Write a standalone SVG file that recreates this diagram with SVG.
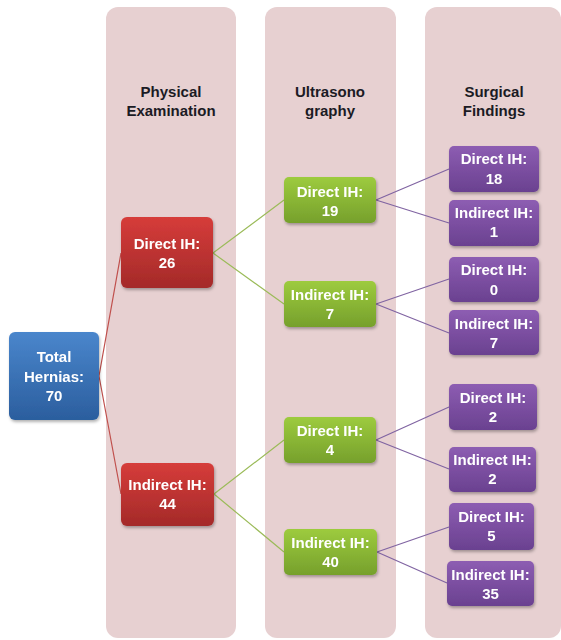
<svg xmlns="http://www.w3.org/2000/svg" width="561" height="640" viewBox="0 0 561 640">
<defs>
<linearGradient id="gBlue" x1="0" y1="0" x2="0" y2="1"><stop offset="0" stop-color="#4a86cc"/><stop offset="1" stop-color="#2b5e9e"/></linearGradient>
<linearGradient id="gRed" x1="0" y1="0" x2="0" y2="1"><stop offset="0" stop-color="#d63c3a"/><stop offset="1" stop-color="#a42a29"/></linearGradient>
<linearGradient id="gGreen" x1="0" y1="0" x2="0" y2="1"><stop offset="0" stop-color="#9dcb3e"/><stop offset="1" stop-color="#76a02c"/></linearGradient>
<linearGradient id="gPurple" x1="0" y1="0" x2="0" y2="1"><stop offset="0" stop-color="#8d5db2"/><stop offset="1" stop-color="#6a4190"/></linearGradient>
<filter id="sh" x="-20%" y="-20%" width="140%" height="150%"><feDropShadow dx="1" dy="2" stdDeviation="1.5" flood-color="#000" flood-opacity="0.3"/></filter>
</defs>
<style>
.col{fill:#e7d0d1}
.hd{font-family:"Liberation Sans",Arial,sans-serif;font-weight:bold;font-size:15px;fill:#1b1b24;text-anchor:middle}
.t{font-family:"Liberation Sans",Arial,sans-serif;font-weight:bold;font-size:15px;fill:#ffffff;text-anchor:middle}
.n{filter:url(#sh)}
.cr{stroke:#c0504d;stroke-width:1.2;fill:none}
.cg{stroke:#9bbb59;stroke-width:1.2;fill:none}
.cp{stroke:#8064a2;stroke-width:1.2;fill:none}
</style>
<rect width="561" height="640" fill="#ffffff"/>
<g id="columns">
<rect class="col" x="106" y="7" width="130" height="631" rx="12"/>
<rect class="col" x="265" y="7" width="131" height="631" rx="12"/>
<rect class="col" x="425" y="7" width="136" height="631" rx="12"/>
<text class="hd" x="171" y="97">Physical</text>
<text class="hd" x="171" y="116">Examination</text>
<text class="hd" x="330" y="97">Ultrasono</text>
<text class="hd" x="330" y="116">graphy</text>
<text class="hd" x="494" y="97">Surgical</text>
<text class="hd" x="494" y="116">Findings</text>
</g>
<g id="connectors">
<path class="cr" d="M99,376 L121,253 M99,376 L121,494"/>
<path class="cg" d="M213,253 L284,200 M213,253 L284,304 M214,494 L284,440 M214,494 L284,552"/>
<path class="cp" d="M376,200 L449,169 M376,200 L449,223 M376,304 L449,279 M376,304 L449,333 M376,440 L449,407 M376,440 L449,469 M377,552 L449,527 M377,552 L447,583"/>
</g>
<g id="total" class="n"><rect x="9" y="332" width="90" height="88" rx="6" fill="url(#gBlue)"/><text class="t" x="54" y="362">Total</text><text class="t" x="54" y="382">Hernias:</text><text class="t" x="54" y="401">70</text></g>
<g id="pe-direct" class="n"><rect x="121" y="217" width="92" height="71" rx="6" fill="url(#gRed)"/><text class="t" x="167" y="249">Direct IH:</text><text class="t" x="167" y="268">26</text></g>
<g id="pe-indirect" class="n"><rect x="121" y="463" width="93" height="63" rx="6" fill="url(#gRed)"/><text class="t" x="167.5" y="490">Indirect IH:</text><text class="t" x="167.5" y="509">44</text></g>
<g id="us-d19" class="n"><rect x="284" y="177" width="92" height="46" rx="5" fill="url(#gGreen)"/><text class="t" x="330" y="197">Direct IH:</text><text class="t" x="330" y="216">19</text></g>
<g id="us-i7" class="n"><rect x="284" y="281" width="92" height="46" rx="5" fill="url(#gGreen)"/><text class="t" x="330" y="300">Indirect IH:</text><text class="t" x="330" y="319">7</text></g>
<g id="us-d4" class="n"><rect x="284" y="417" width="92" height="46" rx="5" fill="url(#gGreen)"/><text class="t" x="330" y="436">Direct IH:</text><text class="t" x="330" y="455">4</text></g>
<g id="us-i40" class="n"><rect x="284" y="529" width="93" height="46" rx="5" fill="url(#gGreen)"/><text class="t" x="330.5" y="548">Indirect IH:</text><text class="t" x="330.5" y="567">40</text></g>
<g id="sf-d18" class="n"><rect x="449" y="146" width="90" height="46" rx="5" fill="url(#gPurple)"/><text class="t" x="494" y="164">Direct IH:</text><text class="t" x="494" y="184">18</text></g>
<g id="sf-i1" class="n"><rect x="449" y="200" width="90" height="46" rx="5" fill="url(#gPurple)"/><text class="t" x="494" y="218">Indirect IH:</text><text class="t" x="494" y="237">1</text></g>
<g id="sf-d0" class="n"><rect x="449" y="257" width="90" height="45" rx="5" fill="url(#gPurple)"/><text class="t" x="494" y="275">Direct IH:</text><text class="t" x="494" y="295">0</text></g>
<g id="sf-i7" class="n"><rect x="449" y="310" width="90" height="45" rx="5" fill="url(#gPurple)"/><text class="t" x="494" y="329">Indirect IH:</text><text class="t" x="494" y="348">7</text></g>
<g id="sf-d2" class="n"><rect x="449" y="384" width="88" height="46" rx="5" fill="url(#gPurple)"/><text class="t" x="493" y="403">Direct IH:</text><text class="t" x="493" y="422">2</text></g>
<g id="sf-i2" class="n"><rect x="449" y="447" width="87" height="45" rx="5" fill="url(#gPurple)"/><text class="t" x="492.5" y="465">Indirect IH:</text><text class="t" x="492.5" y="484">2</text></g>
<g id="sf-d5" class="n"><rect x="449" y="503" width="85" height="47" rx="5" fill="url(#gPurple)"/><text class="t" x="491.5" y="522">Direct IH:</text><text class="t" x="491.5" y="541">5</text></g>
<g id="sf-i35" class="n"><rect x="447" y="561" width="87" height="45" rx="5" fill="url(#gPurple)"/><text class="t" x="490.5" y="580">Indirect IH:</text><text class="t" x="490.5" y="599">35</text></g>
</svg>
